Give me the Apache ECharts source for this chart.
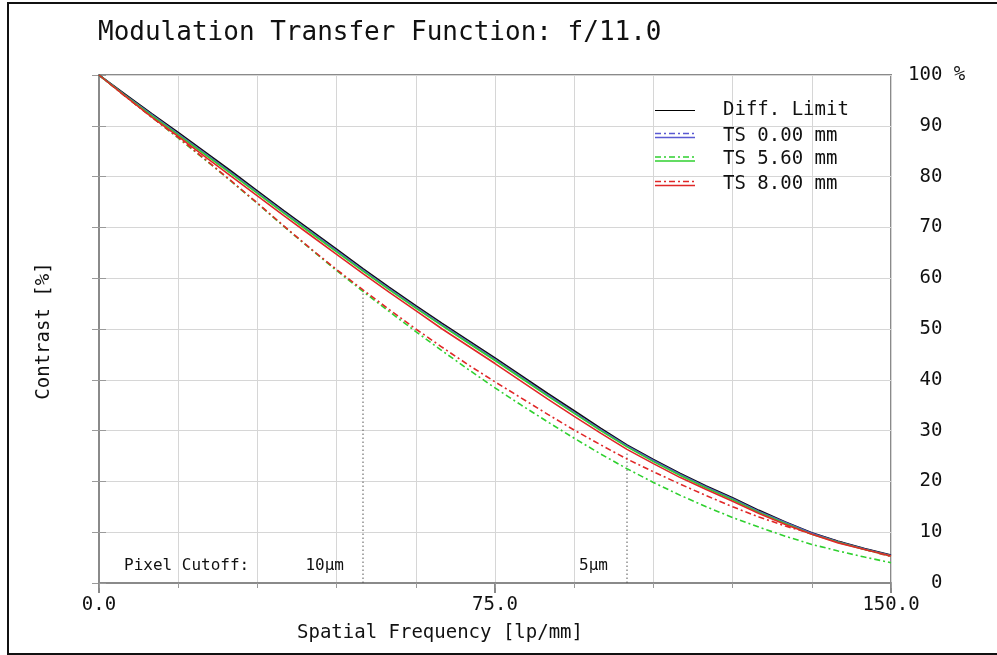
<!DOCTYPE html>
<html>
<head>
<meta charset="utf-8">
<script src="https://cdn.jsdelivr.net/npm/echarts@6/dist/echarts.min.js"></script>
<style>html,body{margin:0;padding:0;background:#fff;}#c{width:997px;height:655px;}</style>
</head>
<body>
<div id="c"></div>
<script>
// ---- data ----
const freq = [0,5,10,15,20,25,30,35,40,45,50,55,60,65,70,75,80,85,90,95,100,105,110,115,120,125,130,135,140,145,150];
const diffLimit = [100,96.2,92.4,88.7,84.9,81.1,77.2,73.3,69.5,65.7,61.9,58.2,54.6,51.1,47.7,44.3,40.8,37.3,33.9,30.5,27.2,24.3,21.6,19.1,16.8,14.3,12.0,9.9,8.2,6.8,5.5];
const ts000S = [100,96.0,92.2,88.4,84.6,80.8,76.9,73.0,69.2,65.4,61.6,57.9,54.3,50.8,47.4,44.0,40.5,37.0,33.6,30.2,27.0,24.1,21.4,18.9,16.6,14.1,11.9,9.8,8.1,6.7,5.4];
const ts000T = [100,96.0,92.2,88.4,84.6,80.8,76.9,73.0,69.2,65.4,61.6,57.9,54.3,50.8,47.4,44.0,40.5,37.0,33.6,30.2,27.0,24.1,21.4,18.9,16.6,14.1,11.9,9.8,8.1,6.7,5.4];
const ts560S = [100,95.9,92.0,88.2,84.4,80.6,76.7,72.8,69.0,65.2,61.4,57.7,54.1,50.6,47.2,43.8,40.3,36.8,33.4,30.0,26.8,23.9,21.2,18.7,16.4,13.9,11.7,9.6,8.0,6.6,5.3];
const ts560T = [100,95.8,91.7,87.6,83.4,79.1,74.7,70.2,65.8,61.5,57.4,53.4,49.5,45.7,42.0,38.4,35.0,31.7,28.5,25.4,22.5,19.8,17.3,15.0,12.9,11.0,9.2,7.6,6.3,5.1,4.0];
const ts800S = [100,95.8,91.7,87.9,84.0,80.1,76.2,72.3,68.5,64.7,60.9,57.2,53.6,50.0,46.6,43.2,39.7,36.2,32.8,29.5,26.3,23.5,20.8,18.4,16.1,13.7,11.5,9.6,7.9,6.6,5.3];
const ts800T = [100,95.8,91.7,87.7,83.5,79.2,74.8,70.3,65.9,61.7,57.7,53.8,50.0,46.4,42.9,39.6,36.4,33.2,30.1,27.2,24.4,21.9,19.5,17.2,15.0,13.0,11.2,9.7,8.2,6.6,5.2];
const cutoffFreq = [50, 100];
const cutoffTop = [57.7, 25.5];
const cutoffLabels = ['10µm', '5µm'];
const xTickLabels = [0, 75, 150];
const legendNames = ['Diff. Limit', 'TS 0.00 mm', 'TS 5.60 mm', 'TS 8.00 mm'];

const mono = "'DejaVu Sans Mono', 'Liberation Mono', monospace";
const BLUE = '#5a5ad2', GREEN = '#2fd02f', RED = '#e02828', BLACK = '#111';
const dashDot = [6, 3, 2, 3];

function pairs(ys){ return freq.map((x,i)=>[x, ys[i]]); }
function lineSeries(name, ys, color, type, w){
  return {name, type:'line', data:pairs(ys), showSymbol:false, symbol:'none', silent:true,
    lineStyle:{color, width:w||1.6, type:type||'solid'}, z:3};
}

const chart = echarts.init(document.getElementById('c'), null, {renderer:'canvas'});
const series = [
  lineSeries('TS 0.00 mm T', ts000T, BLUE, dashDot),
  lineSeries('TS 5.60 mm T', ts560T, GREEN, dashDot),
  lineSeries('TS 8.00 mm T', ts800T, RED, dashDot),
  lineSeries('Diff. Limit', diffLimit, BLACK, 'solid', 1.6),
  lineSeries('TS 0.00 mm S', ts000S, BLUE),
  lineSeries('TS 5.60 mm S', ts560S, GREEN),
  lineSeries('TS 8.00 mm S', ts800S, RED)
];
cutoffFreq.forEach((f,i)=>{
  series.push({type:'line', data:[[f,0],[f,cutoffTop[i]]], showSymbol:false, symbol:'none', silent:true,
    lineStyle:{color:'#555', width:1, type:[1.5,2.5]}, z:2});
});

chart.setOption({
  animation:false,
  backgroundColor:'#fff',
  grid:{left:99, right:106, top:75, bottom:72, show:true, borderColor:'#8a8a8a', borderWidth:2, backgroundColor:'transparent'},
  xAxis:[{
    type:'value', min:0, max:150, interval:15,
    axisLine:{show:true, onZero:false, lineStyle:{color:'#8a8a8a', width:2}},
    axisTick:{show:true, customValues:xTickLabels, length:10, lineStyle:{color:'#8a8a8a', width:2}},
    axisLabel:{customValues:xTickLabels, formatter:v=>Number(v).toFixed(1), margin:13, color:'#111', fontFamily:mono, fontSize:19},
    splitLine:{show:false}
  },{
    type:'value', position:'top', min:0, max:150, interval:15,
    axisLine:{show:false}, axisTick:{show:true, inside:true, length:5, lineStyle:{color:'#9a9a9a'}},
    axisLabel:{show:false},
    splitLine:{show:true, lineStyle:{color:'#d6d6d6', width:1}}
  }],
  yAxis:[{
    type:'value', position:'right', min:0, max:100, interval:10,
    axisLine:{show:true, lineStyle:{color:'#8a8a8a', width:2}},
    axisTick:{show:true, inside:true, length:7, lineStyle:{color:'#9a9a9a'}},
    axisLabel:{margin:17, align:'left', color:'#111', fontFamily:mono, fontSize:19,
      formatter:v=> v===100 ? '100 %' : String(v).padStart(3,' ')},
    splitLine:{show:true, lineStyle:{color:'#d6d6d6', width:1}}
  },{
    type:'value', position:'left', min:0, max:100, interval:10,
    axisLine:{show:false}, axisTick:{show:true, inside:true, length:7, lineStyle:{color:'#9a9a9a'}},
    axisLabel:{show:false}, splitLine:{show:false}
  }],
  series
});

// ---- annotations / legend / titles ----
const g = [];
g.push({type:'polyline', shape:{points:[[997,3],[8,3],[8,654],[997,654]]}, style:{stroke:'#111', lineWidth:2, fill:null}, silent:true});
g.push({type:'text', x:98, y:33, style:{text:'Modulation Transfer Function: f/11.0', font:'26px '+mono, fill:'#111', textVerticalAlign:'middle'}});
g.push({type:'text', x:297, y:633, style:{text:'Spatial Frequency [lp/mm]', font:'19px '+mono, fill:'#111', textVerticalAlign:'middle'}});
g.push({type:'text', x:44.5, y:331, rotation:Math.PI/2, style:{text:'Contrast [%]', font:'19px '+mono, fill:'#111', textAlign:'center', textVerticalAlign:'middle'}});

const origin = chart.convertToPixel({xAxisIndex:0, yAxisIndex:0}, [0, 0]);
g.push({type:'text', x:origin[0]+25, y:566, style:{text:'Pixel Cutoff:', font:'16px '+mono, fill:'#111', textVerticalAlign:'middle'}});
cutoffFreq.forEach((f,i)=>{
  const p = chart.convertToPixel({xAxisIndex:0, yAxisIndex:0}, [f, 0]);
  g.push({type:'text', x:p[0]-19, y:566, style:{text:cutoffLabels[i], font:'16px '+mono, fill:'#111', textAlign:'right', textVerticalAlign:'middle'}});
});

// legend
const legRows = [110, 136, 159.5, 184];
const legColors = [BLACK, BLUE, GREEN, RED];
legRows.forEach((y,i)=>{
  if(i===0){
    g.push({type:'line', shape:{x1:655,y1:y+0.5,x2:695,y2:y+0.5}, style:{stroke:'#000', lineWidth:1}});
  } else {
    g.push({type:'line', shape:{x1:655,y1:y-2.5,x2:695,y2:y-2.5}, style:{stroke:legColors[i], lineWidth:1.5, lineDash:dashDot}});
    g.push({type:'line', shape:{x1:655,y1:y+1.5,x2:695,y2:y+1.5}, style:{stroke:legColors[i], lineWidth:1.5}});
  }
  g.push({type:'text', x:723, y:y, style:{text:legendNames[i], font:'19px '+mono, fill:'#111', textVerticalAlign:'middle'}});
});
chart.setOption({graphic:g});
</script>
</body>
</html>
